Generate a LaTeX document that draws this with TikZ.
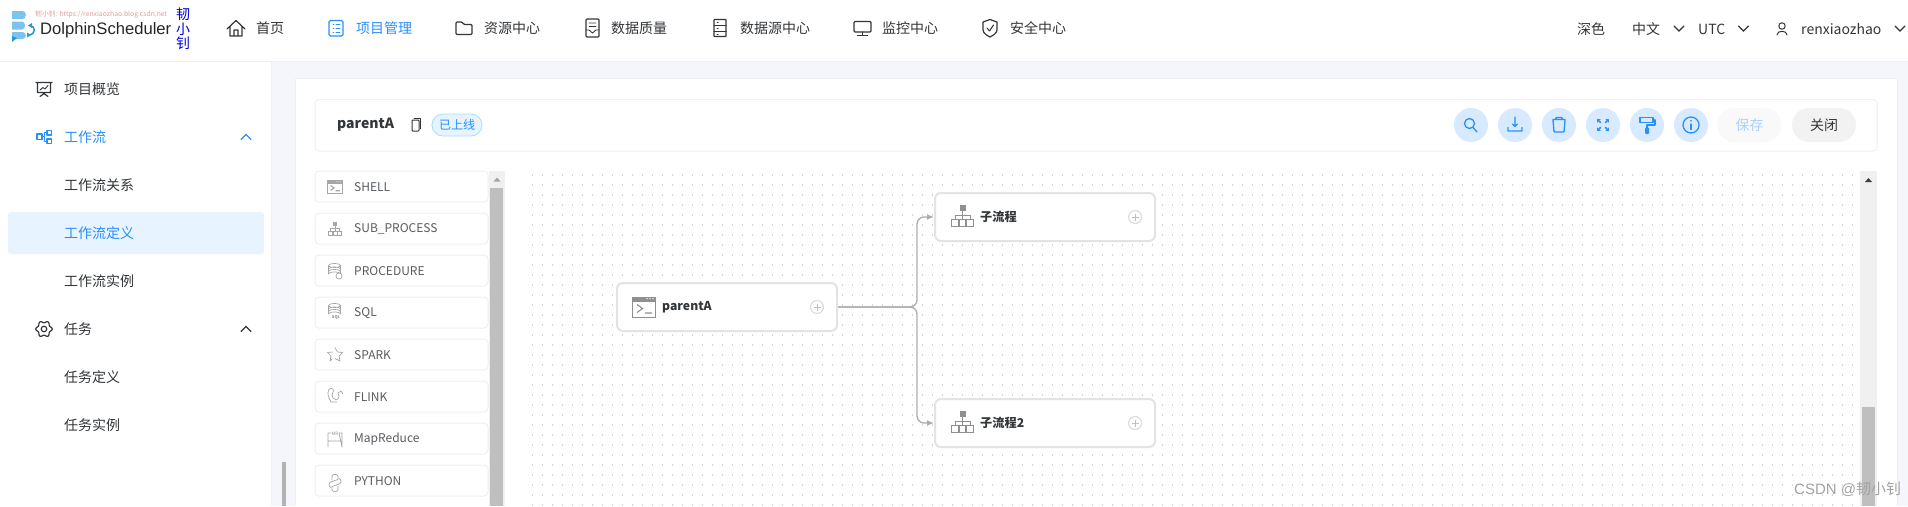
\documentclass[tikz,border=0pt]{standalone}
\usepackage{fontspec}
\setmainfont{Noto Sans CJK SC}
\newfontfamily\latinf{Liberation Sans}
\usetikzlibrary{arrows.meta,calc}
\definecolor{bgc}{HTML}{F5F6FB}
\definecolor{linec}{HTML}{EFEFF5}
\definecolor{ink}{HTML}{333639}
\definecolor{nblue}{HTML}{2A8FF7}
\definecolor{btnc}{HTML}{D7EAFF}
\definecolor{hlc}{HTML}{E7F3FE}
\definecolor{igrey}{HTML}{8F8F8F}
\definecolor{pgrey}{HTML}{A6A6A6}
\definecolor{pal}{HTML}{595C60}
\definecolor{edgec}{HTML}{ADADAD}
\definecolor{logoc}{HTML}{7CC4EE}
\definecolor{logod}{HTML}{1E9AD6}
\definecolor{markc}{HTML}{DDA09A}
\tikzset{
  lab/.style={anchor=west,inner sep=0pt,font=\fontsize{14}{14}\selectfont,text=ink},
  labblue/.style={lab,text=nblue},
  ctr/.style={inner sep=0pt,font=\fontsize{14}{14}\selectfont,text=ink},
  cardbox/.style={draw=linec,fill=white,line width=1pt,rounded corners=4pt},
  palbox/.style={draw=linec,fill=white,line width=1pt,rounded corners=4pt,minimum width=173pt,minimum height=31pt,inner sep=0pt},
  pallab/.style={anchor=west,inner sep=0pt,font=\fontsize{12}{12}\selectfont,text=pal},
  dagnode/.style={draw=black!11,fill=white,line width=2pt,rounded corners=6pt,minimum width=220pt,minimum height=48pt,inner sep=0pt},
  daglab/.style={anchor=west,inner sep=0pt,font=\fontsize{12.2}{13}\selectfont\bfseries,text=ink},
  roundbtn/.style={circle,fill=btnc,minimum size=34pt,inner sep=0pt},
  pillbtn/.style={rounded corners=17pt,minimum width=64pt,minimum height=34pt,inner sep=0pt,font=\fontsize{14}{14}\selectfont},
  edge/.style={draw=edgec,line width=1.3pt,rounded corners=7pt,-{Latex[length=7pt,width=6pt]}},
  ic/.style={draw=ink,line width=1.2pt,line join=round,line cap=round},
  icb/.style={draw=nblue,line width=1.3pt,line join=round,line cap=round},
  icg/.style={draw=igrey,line width=.8pt,line join=round},
  icp/.style={draw=pgrey,line width=.7pt,line join=round},
}
\newcommand{\chev}[4]{\draw[draw=#4,line width=1.1pt,line cap=round] (#1-5,#2+#3*2.5) -- (#1,#2-#3*2.5) -- (#1+5,#2+#3*2.5);}
\newcommand{\termicon}[4]{\begin{scope}[shift={(#1,#2)},scale=#3]
  \draw[draw=#4,line width=.8pt,fill=white] (-11.5,-10) rectangle (11.5,10);
  \fill[#4] (-11.5,-10) rectangle (11.5,-5.5);
  \fill[white] (3,-8.4) circle (.7) (6,-8.4) circle (.7) (9,-8.4) circle (.7);
  \draw[draw=#4,line width=1.1pt] (-7,-2.5) -- (-1.5,1.5) -- (-7,5.5) (1,6) -- (8,6);
\end{scope}}
\newcommand{\treeicon}[4]{\begin{scope}[shift={(#1,#2)},scale=#3]
  \fill[#4] (-3,-11) rectangle (3,-5);
  \draw[draw=#4,line width=.8pt] (0,-5) -- (0,3.5) (-7.5,3.5) -- (-7.5,-.8) -- (7.5,-.8) -- (7.5,3.5);
  \draw[draw=#4,line width=.8pt] (-11,3.5) rectangle (-4,10) (-3.3,3.5) rectangle (3.3,10) (4,3.5) rectangle (11,10);
\end{scope}}
\newcommand{\dbshape}[2]{\draw[icp] (#1,#2-5) ellipse [x radius=6,y radius=2]
  (#1-6,#2-5) -- (#1-6,#2+3.5) (#1+6,#2-5) -- (#1+6,#2+3.5)
  (#1-6,#2-1.5) arc[start angle=180,end angle=360,x radius=6,y radius=2]
  (#1-6,#2+1) arc[start angle=180,end angle=360,x radius=6,y radius=2]
  (#1-6,#2+3.5) arc[start angle=180,end angle=360,x radius=6,y radius=2];}
\newcommand{\plusc}[2]{\draw[draw=black!14,line width=1.1pt,fill=white] (#1,#2) circle (6.5);
  \draw[draw=black!25,line width=.9pt] (#1-3.5,#2) -- (#1+3.5,#2) (#1,#2-3.5) -- (#1,#2+3.5);}
\begin{document}
\begin{tikzpicture}[x=1pt,y=-1pt]
\useasboundingbox (0,0) rectangle (1908,506);
% backgrounds
\fill[white] (0,0) rectangle (1908,506);
\fill[bgc] (271,61) rectangle (1908,506);
\draw[linec,line width=1pt] (0,61) -- (1908,61);
\draw[linec,line width=1pt] (271,61) -- (271,506);
\fill[white] (295,78.5) rectangle (1897,506);
\draw[linec,line width=1pt] (295,506) -- (295,78.5) -- (1897,78.5) -- (1897,506);
% logo
\fill[logoc] (12,11) -- (22.5,11) .. controls (27,11) and (27,19) .. (22.5,19) -- (12,19) -- cycle;
\fill[logoc] (12,21.5) -- (22,21.5) .. controls (26,21.5) and (26,29.5) .. (22,29.5) -- (12,29.5) -- cycle;
\fill[logoc] (12,32) -- (22.5,32) .. controls (27,32) and (27,39) .. (22.5,39) -- (12,39) -- cycle;
\fill[logod] (12,36) -- (17,38) -- (12,42) -- cycle;
\draw[logod,line width=1.5pt] (30,25.5) .. controls (36,26.5) and (36,34) .. (29,35);
\fill[logod] (32,23) -- (28,25.5) -- (32,28) -- cycle;
\fill[logod] (27,32.5) -- (31,35) -- (27,37.5) -- cycle;
\node[lab,font=\latinf\fontsize{16.6}{17}\selectfont,text=black!85] (brand) at (40,30) {DolphinScheduler};
\node[lab,font=\fontsize{6.8}{7}\selectfont,text=markc] (mark) at (35,15) {韧小钊: https://renxiaozhao.blog.csdn.net};
\node[ctr,text=blue!85!black] (v1) at (183,14) {韧};
\node[ctr,text=blue!85!black] (v2) at (183,29) {小};
\node[ctr,text=blue!85!black] (v3) at (183,43) {钊};
% top nav
\node[lab] (n1) at (256,28) {首页};
\node[labblue] (n2) at (356,28) {项目管理};
\node[lab] (n3) at (484,28) {资源中心};
\node[lab] (n4) at (611,28) {数据质量};
\node[lab] (n5) at (740,28) {数据源中心};
\node[lab] (n6) at (882,28) {监控中心};
\node[lab] (n7) at (1010,28) {安全中心};
\draw[ic] (227,29) -- (236,20.5) -- (245,29) (230,27) -- (230,36) -- (242,36) -- (242,27) (234,36) -- (234,30) -- (238,30) -- (238,36);
\draw[icb,rounded corners=1.5pt] (329,20.5) rectangle (343,36);
\draw[icb,line width=.9pt] (333,24.5) -- (334,24.5) (336,24.5) -- (340,24.5) (333,28.2) -- (334,28.2) (336,28.2) -- (340,28.2) (333,32) -- (334,32) (336,32) -- (340,32);
\draw[ic,rounded corners=1pt] (456,22) -- (462,22) -- (464,24.5) -- (472,24.5) -- (472,34.5) -- (456,34.5) -- cycle;
\draw[ic,rounded corners=1pt] (586,19) rectangle (599,37);
\draw[ic,line width=.9pt] (589,23) -- (596,23) (589,26.5) -- (596,26.5) (586,30) -- (589,30) -- (592.5,33) -- (596,30) -- (599,30);
\draw[ic,rounded corners=.5pt] (714,19.5) rectangle (726,36.5);
\draw[ic,line width=1pt] (714,25) -- (726,25) (714,31) -- (726,31) (717,22) -- (718,22) (717,28) -- (718,28) (717,34) -- (718,34);
\draw[ic,rounded corners=1pt] (854,21.5) rectangle (871,32);
\draw[ic] (862.5,32) -- (862.5,35.5) (857.5,35.5) -- (867.5,35.5);
\draw[ic] (990,19.5) -- (997,22) -- (997,30) .. controls (997,33) and (993,35.5) .. (990,37) .. controls (987,35.5) and (983,33) .. (983,30) -- (983,22) -- cycle;
\draw[ic,line width=1pt] (987,28) -- (989.5,31) -- (993.5,25);
% top right
\node[lab] (r1) at (1577,29) {深色};
\node[lab] (r2) at (1632,29) {中文};
\node[lab] (r3) at (1698,29) {UTC};
\node[lab] (r4) at (1801,29) {renxiaozhao};
\chev{1679}{28.5}{-1}{ink}
\chev{1743.5}{28.5}{-1}{ink}
\chev{1900}{28.5}{-1}{ink}
\draw[ic,line width=1pt] (1782,26) circle (3.2) (1777,35) .. controls (1777,30) and (1787,30) .. (1787,35);
% sidebar
\fill[hlc,rounded corners=3pt] (8,212) rectangle (264,254);
\node[lab] (s1) at (64,89) {项目概览};
\node[labblue] (s2) at (64,137) {工作流};
\node[lab] (s3) at (64,185) {工作流关系};
\node[labblue] (s4) at (64,233) {工作流定义};
\node[lab] (s5) at (64,281) {工作流实例};
\node[lab] (s6) at (64,329) {任务};
\node[lab] (s7) at (64,377) {任务定义};
\node[lab] (s8) at (64,425) {任务实例};
\draw[ic] (36,82.5) -- (52,82.5) (37.5,82.5) -- (37.5,92.5) -- (50.5,92.5) -- (50.5,82.5) (44,92.5) -- (44,94) (40,96.5) -- (44,93.5) -- (48,96.5);
\draw[ic,line width=.9pt] (40,90) -- (43,87.5) -- (45,89) -- (48,85.5);
\draw[icb] (37,134) rectangle (42,139.5) (47,130.5) rectangle (51.5,135) (47,139) rectangle (51.5,143.5);
\draw[icb] (42,136.8) -- (44.5,136.8) (47,132.8) -- (44.5,132.8) -- (44.5,141.2) -- (47,141.2);
\chev{246}{137}{1}{nblue}
\chev{246}{329}{1}{ink}
\draw[ic,smooth] plot[domain=0:360,samples=61] ({44+(7.2+1*cos(6*\x))*cos(\x)},{329+(7.2+1*cos(6*\x))*sin(\x)});
\draw[ic] (44,329) circle (2.8);
\fill[black!30] (282,462) rectangle (286,506);
% toolbar
\draw[cardbox] (315,99.5) rectangle (1877,151);
\node[lab,font=\fontsize{14}{14}\selectfont\bfseries] (title) at (337,125) {parentA};
\draw[ic,line width=1pt,rounded corners=.8pt] (412,120) rectangle (419,131);
\draw[ic,line width=.9pt] (414,118.5) -- (420.5,118.5) -- (420.5,129);
\node[rounded corners=11pt,fill=hlc,draw=blue!35!cyan!35,line width=.8pt,minimum width=50pt,minimum height=22pt,inner sep=0pt,font=\fontsize{12}{12}\selectfont,text=nblue] (badge) at (457,125) {已上线};
\node[roundbtn] (b1) at (1471,125) {};
\node[roundbtn] (b2) at (1515,125) {};
\node[roundbtn] (b3) at (1559,125) {};
\node[roundbtn] (b4) at (1603,125) {};
\node[roundbtn] (b5) at (1647,125) {};
\node[roundbtn] (b6) at (1691,125) {};
\draw[icb] (1469.5,123.5) circle (5) (1473,127.5) -- (1477,132);
\draw[icb] (1515,117) -- (1515,126.5) (1512.5,124) -- (1515,126.5) -- (1517.5,124) (1508,127.5) -- (1508,131) -- (1522,131) -- (1522,127.5);
\draw[icb,rounded corners=.7pt] (1553,120) -- (1554,132) -- (1564,132) -- (1565,120) (1553,119.5) -- (1565,119.5) (1555.5,119) -- (1556,117.5) -- (1562,117.5) -- (1562.5,119);
\draw[icb,line width=1.5pt] (1598,120) -- (1600.5,122.5) (1608,120) -- (1605.5,122.5) (1598,130) -- (1600.5,127.5) (1608,130) -- (1605.5,127.5);
\draw[icb,line width=1pt] (1597.5,122) -- (1597.5,119.5) -- (1600,119.5) (1606,119.5) -- (1608.5,119.5) -- (1608.5,122) (1597.5,128) -- (1597.5,130.5) -- (1600,130.5) (1608.5,128) -- (1608.5,130.5) -- (1606,130.5);
\draw[icb] (1640,117.5) rectangle (1653,122.5);
\draw[icb] (1653,120) -- (1655,120) -- (1655,125) -- (1647,125) -- (1647,128);
\fill[nblue,rounded corners=1pt] (1645,127.5) rectangle (1649,134);
\draw[icb] (1691,125) circle (8);
\draw[icb] (1691,124) -- (1691,129.5) (1691,120.7) -- (1691,121);
\node[pillbtn,fill=black!2.5,text=nblue!40] (save) at (1749.5,125) {保存};
\node[pillbtn,fill=black!5,text=ink] (close) at (1824,125) {关闭};
% canvas dots
\foreach \dy in {175,185,...,505}{
  \foreach \dx in {532.5,542.5,...,1852.5}{
    \fill[black!32] (\dx,\dy) circle (.55);
  }
}
% palette
\foreach \pn/\py/\pt in {p1/171/SHELL,p2/213/SUB\_PROCESS,p3/255/PROCEDURE,p4/297/SQL,p5/339/SPARK,p6/381/FLINK,p7/423/MapReduce,p8/465/PYTHON}{
  \node[palbox] (\pn) at (401.5,\py+15.5) {};
  \node[pallab] (\pn t) at (354,\py+16) {\pt};
}
\termicon{335}{187}{.62}{pgrey}
\treeicon{335}{229}{.62}{pgrey}
\dbshape{334.5}{270.5}
\draw[icp,fill=white] (339,276) circle (3);
\dbshape{334.5}{310.5}
\node[inner sep=0pt,fill=white,font=\fontsize{4}{4}\selectfont\bfseries,text=igrey] (sqlmini) at (336,317) {SQL};
\draw[icp] (335,347.5) -- (337.5,352) -- (342.5,352.5) -- (339,356) -- (340,361) -- (335,358.5) (332,359) -- (330,361) -- (331,356) -- (327.5,352.5) -- (332.5,352);
\draw[icp] (329,398) .. controls (326,390) and (330,387) .. (333,389) .. controls (335,392) and (330,394) .. (333,398) .. controls (337,402) and (341,398) .. (338,393) (338,393) -- (341,391) -- (343,394) (329,398) -- (331,402) -- (337,402);
\draw[icp] (328,447) -- (328,433) -- (331,433) (339,433) -- (342,433) -- (342,447) -- cycle (328,441) -- (342,441);
\node[inner sep=0pt,font=\fontsize{4.5}{4.5}\selectfont,text=igrey] (mrmini) at (335,433.5) {MR};
\draw[icp] (332,480) -- (332,476.5) .. controls (332,473.5) and (338,473.5) .. (338,476.5) -- (338,479.5) -- (332,481.5) .. controls (329,481.5) and (327.5,487) .. (331,487.5) (338,486) -- (338,489.5) .. controls (338,492.5) and (332,492.5) .. (332,489.5) -- (332,486.5) -- (338,484.5) .. controls (341,484.5) and (342.5,479) .. (339,478.5);
% palette scrollbar
\fill[black!6] (488.5,171) rectangle (505,506);
\fill[black!25] (490,188) rectangle (503,506);
\fill[black!35] (493.5,181.5) -- (497,177.5) -- (500.5,181.5) -- cycle;
% canvas scrollbar
\fill[black!6] (1860,171) rectangle (1877,506);
\fill[black!25] (1862,407) rectangle (1875,506);
\fill[black!75] (1865,182) -- (1868.5,178) -- (1872,182) -- cycle;
% dag
\node[dagnode] (pa) at (727,307) {};
\node[dagnode] (c1) at (1045,217) {};
\node[dagnode] (c2) at (1045,423) {};
\node[daglab] (pat) at (662,307) {parentA};
\node[daglab] (c1t) at (980,217) {子流程};
\node[daglab] (c2t) at (980,423) {子流程2};
\termicon{644}{307}{1}{igrey}
\treeicon{962.5}{216}{1}{igrey}
\treeicon{962.5}{422}{1}{igrey}
\plusc{817}{307}
\plusc{1135}{217}
\plusc{1135}{423}
\draw[edge] (pa.east) -- ($(pa.east)+(79,0)$) |- (c1.west);
\draw[edge] (pa.east) -- ($(pa.east)+(79,0)$) |- (c2.west);
% watermark
\node[lab,font=\latinf\fontsize{15}{15}\selectfont,text=black!36] (wm) at (1794,489) {CSDN @{\rmfamily 韧小钊}};
\end{tikzpicture}
\end{document}
